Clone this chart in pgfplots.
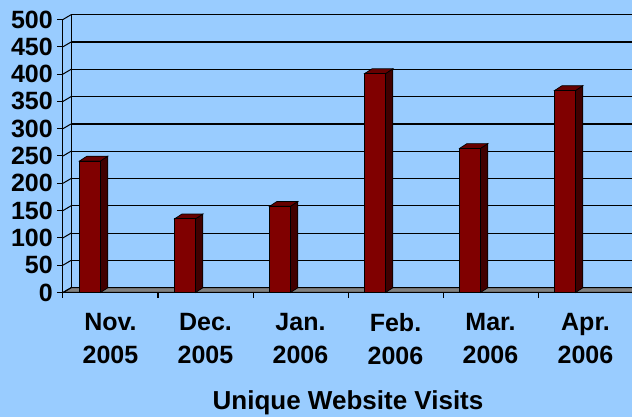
\documentclass[border=0pt]{standalone}
\usepackage{pgfplots}
\pgfplotsset{compat=1.18}
\usepackage{pgfplotstable}
\usepackage{fontspec}
\setmainfont{Liberation Sans}
\definecolor{bg}{HTML}{99CCFF}
\definecolor{barfront}{HTML}{800000}
\definecolor{barside}{HTML}{400000}
\definecolor{bartop}{HTML}{660000}
\definecolor{floorgray}{HTML}{808080}

\pgfplotstableread{
x v
0 241
1 135
2 158
3 401
4 264
5 370
}\visits

\begin{document}
\begin{tikzpicture}
\fill[bg] (0pt,0pt) rectangle (632pt,417pt);
% back wall with gridlines
\begin{axis}[
  at={(71pt,129.25pt)}, anchor=south west, scale only axis,
  width=570pt, height=273pt,
  xmin=0, xmax=1, ymin=0, ymax=500,
  axis x line=none, axis y line=left,
  axis line style={-, black, line width=1pt},
  ytick={0,50,...,500}, yticklabels={}, major tick length=0pt,
  ymajorgrids, grid style={black, line width=1.2pt},
]
\end{axis}
% front axis
\begin{axis}[
  at={(63pt,124.5pt)}, anchor=south west, scale only axis,
  width=570pt, height=273pt,
  xmin=-0.5, xmax=5.5, ymin=0, ymax=500,
  clip=false,
  axis lines=left,
  axis line style={-, black, line width=1pt},
  tick align=outside,
  major tick length=5.5pt,
  tick style={black, line width=1pt},
  ytick={0,50,...,500},
  xtick={-0.5,0.5,...,5.5},
  xticklabels={},
  extra x ticks={0,1,2,3,4,5},
  extra x tick labels={{Nov.\\2005},{Dec.\\2005},{Jan.\\2006},{Feb.\\2006},{Mar.\\2006},{Apr.\\2006}},
  extra x tick style={major tick length=0pt,
    xticklabel style={align=center, inner sep=0pt, anchor=north, yshift=-20.5pt}},
  ticklabel style={font=\fontsize{25}{33}\selectfont\bfseries},
  /pgf/number format/assume math mode=true,
  yticklabel style={inner sep=0pt, xshift=-4.5pt},
  xlabel={Unique Website Visits},
  xlabel style={at={(axis description cs:0.5,0)}, anchor=base, yshift=-117.5pt,
    inner sep=0pt, font=\fontsize{26}{30}\selectfont\bfseries},
]
% floor
\addplot[fill=floorgray, draw=black, line width=1pt]
  coordinates {(-0.5,0) (-0.4158,8.7) (5.7,8.7) (5.7,0)} --cycle;
% left wall diagonals
\addplot[black, line width=1pt, quiver={u=0.0842, v=8.7}, -]
  table {
x y
-0.5 0
-0.5 50
-0.5 100
-0.5 150
-0.5 200
-0.5 250
-0.5 300
-0.5 350
-0.5 400
-0.5 450
-0.5 500
};
% 3D sides and tops of bars
\pgfplotsinvokeforeach{0,1,2,3,4,5}{
  \pgfplotstablegetelem{#1}{v}\of\visits
  \pgfmathsetmacro\vv{\pgfplotsretval}
  \pgfmathsetmacro\vt{\pgfplotsretval+8.7}
  \pgfmathsetmacro\xl{#1-0.325}
  \pgfmathsetmacro\xr{#1-0.105}
  \pgfmathsetmacro\xlb{#1-0.325+0.077}
  \pgfmathsetmacro\xrb{#1-0.105+0.077}
  \addplot[fill=barside, draw=black, line width=0.7pt]
    coordinates {(\xr,0) (\xrb,8.7) (\xrb,\vt) (\xr,\vv)} --cycle;
  \addplot[fill=bartop, draw=black, line width=0.7pt]
    coordinates {(\xl,\vv) (\xlb,\vt) (\xrb,\vt) (\xr,\vv)} --cycle;
}
% front faces
\addplot[ybar, bar width=0.22, bar shift=-0.215, fill=barfront, draw=black, line width=0.7pt]
  table[x=x, y=v] {\visits};
\end{axis}
\pgfresetboundingbox
\path[use as bounding box] (0pt,0pt) rectangle (632pt,417pt);
\end{tikzpicture}
\end{document}
